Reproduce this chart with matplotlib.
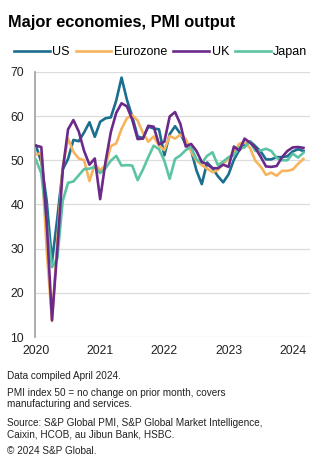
import numpy as np
import matplotlib
matplotlib.use('Agg')
import matplotlib.pyplot as plt

plt.rcParams['font.family'] = ['Liberation Sans', 'DejaVu Sans']

# monthly composite PMI output, Jan 2020 - Mar 2024
us = [53.3, 49.6, 40.9, 27.0, 37.0, 47.9, 50.3, 54.6, 54.3, 56.3, 58.6, 55.3,
      58.7, 59.5, 59.7, 63.5, 68.7, 63.7, 59.9, 55.4, 55.0, 57.6, 57.2, 57.0,
      51.1, 55.9, 57.7, 56.0, 53.6, 52.3, 47.7, 44.6, 49.5, 48.2, 46.4, 45.0,
      46.8, 50.1, 52.3, 53.4, 54.3, 53.2, 52.0, 50.2, 50.2, 50.7, 50.7, 50.9,
      52.0, 52.5, 52.1]
eurozone = [51.3, 51.6, 29.7, 13.6, 31.9, 48.5, 54.9, 51.9, 50.4, 50.0, 45.3, 49.1,
            47.8, 48.8, 53.2, 53.8, 57.1, 59.5, 60.2, 59.0, 56.2, 54.2, 55.4, 53.3,
            52.3, 55.5, 54.9, 55.8, 54.8, 52.0, 49.9, 48.9, 48.1, 47.3, 47.8, 49.3,
            50.3, 52.0, 53.7, 54.1, 52.8, 49.9, 48.6, 46.7, 47.2, 46.5, 47.6, 47.6,
            47.9, 49.2, 50.3]
uk = [53.3, 53.0, 36.0, 13.8, 30.0, 47.7, 57.0, 59.1, 56.5, 52.1, 49.0, 50.4,
      41.2, 49.6, 56.4, 60.7, 62.9, 62.2, 59.2, 54.8, 54.9, 57.8, 57.6, 53.6,
      54.2, 59.9, 60.9, 58.2, 53.1, 53.7, 52.1, 49.6, 49.1, 48.2, 48.2, 49.0,
      48.5, 53.1, 52.2, 54.9, 54.0, 52.8, 50.8, 48.6, 48.5, 48.7, 50.7, 52.1,
      52.9, 53.0, 52.8]
japan = [50.1, 47.0, 36.2, 25.8, 27.8, 40.8, 44.9, 45.2, 46.6, 48.0, 48.1, 48.5,
         47.1, 48.2, 49.9, 51.0, 48.8, 48.9, 48.8, 45.5, 47.9, 50.7, 53.3, 52.5,
         49.9, 45.8, 50.3, 51.1, 52.3, 53.0, 50.2, 49.4, 51.0, 51.8, 48.9, 49.7,
         50.7, 51.1, 52.9, 52.9, 54.3, 52.1, 52.2, 52.6, 52.1, 50.5, 50.0, 50.0,
         51.5, 50.6, 51.7]

names = ['US', 'Eurozone', 'UK', 'Japan']
colors = ['#1a6e8e', '#f7b45c', '#6b2a8a', '#5cc4a4']
years = [2020, 2021, 2022, 2023, 2024]
yticks = [10, 20, 30, 40, 50, 60, 70]

x = 2020 + np.arange(len(us)) / 12

fig = plt.figure(figsize=(3.24, 4.76), dpi=100)
ax = fig.add_axes([0.108, 0.292, 0.849, 0.557])

handles = []
for name, vals, c in zip(names, [us, eurozone, uk, japan], colors):
    h, = ax.plot(x, vals, color=c, lw=1.9, label=name, solid_joinstyle='round')
    handles.append(h)
# UK drawn on top, as in the original
handles[2].set_zorder(3)

ax.set_xlim(2019.985, 2024.27)
ax.set_ylim(10, 70)
ax.set_yticks(yticks)
ax.set_xticks(years)
ax.set_xticklabels([str(y) for y in years])
ax.grid(axis='y', color='#dcdcdc', lw=0.9)
ax.set_axisbelow(True)
for s in ['top', 'right', 'bottom']:
    ax.spines[s].set_visible(False)
ax.spines['left'].set_color('#a6a6a6')
ax.spines['left'].set_linewidth(1.3)
ax.tick_params(axis='both', length=0, labelsize=8.8, colors='#222222')
ax.tick_params(axis='y', pad=8)
ax.tick_params(axis='x', pad=6)

fig.text(0.025, 0.952, 'Major economies, PMI output', fontsize=11.8,
         fontweight='bold', va='center', ha='left')

fig.legend(handles=handles, loc='center left', bbox_to_anchor=(0.043, 0.89),
           ncol=4, frameon=False, fontsize=9, handlelength=2.85,
           handletextpad=0.2, columnspacing=0.5, borderaxespad=0, borderpad=0)

notes = [
    (0.220, 'Data compiled April 2024.'),
    (0.185, 'PMI index 50 = no change on prior month, covers\nmanufacturing and services.'),
    (0.122, 'Source: S&P Global PMI, S&P Global Market Intelligence,\nCaixin, HCOB, au Jibun Bank, HSBC.'),
    (0.064, '\u00a9 2024 S&P Global.'),
]
for yy, t in notes:
    fig.text(0.022, yy, t, fontsize=7.2, va='top', ha='left', color='#222222',
             linespacing=1.15)

fig.savefig('out.png', dpi=100)
